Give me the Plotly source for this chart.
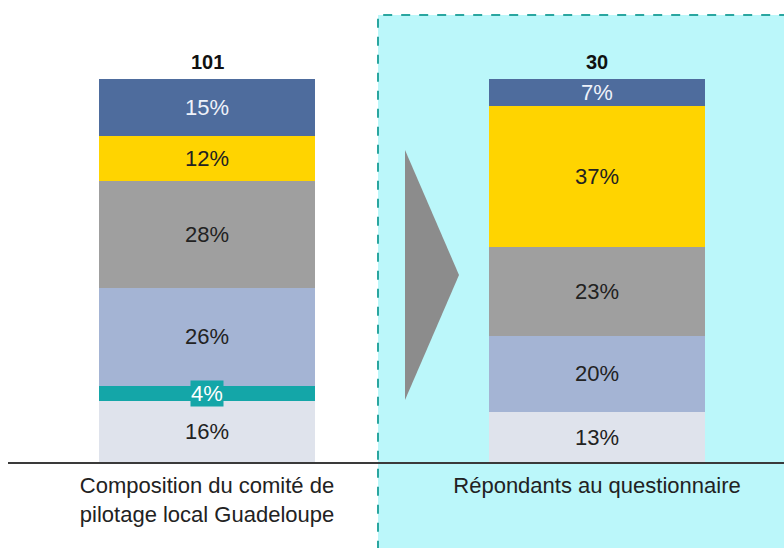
import plotly.graph_objects as go
import numpy as np

categories = ["Composition du comité de<br>pilotage local Guadeloupe", "Répondants au questionnaire"]
totals = [101, 30]
series_names = ["Groupe F", "Groupe E", "Groupe D", "Groupe C", "Groupe B", "Groupe A"]  # bottom -> top
series_values = [
    [16, 13],
    [4, 0],
    [26, 20],
    [28, 23],
    [12, 37],
    [15, 7],
]
series_colors = ["#DFE3EC", "#14A6A8", "#A4B4D4", "#9F9F9F", "#FFD400", "#4E6C9D"]
label_colors = ["#222222", "#FFFFFF", "#222222", "#222222", "#222222", "#EEF2FA"]

FONT = "Liberation Sans, Arial, sans-serif"
xpos = [0, 1]

fig = go.Figure()
for name, vals, col in zip(series_names, series_values, series_colors):
    fig.add_trace(go.Bar(x=xpos, y=vals, name=name, marker=dict(color=col, line=dict(width=0)),
                         width=0.556, hoverinfo="skip"))

# segment labels at normalized centers
vals_arr = np.array(series_values, dtype=float)
norm = vals_arr / vals_arr.sum(axis=0) * 100
cum = np.cumsum(norm, axis=0)
annotations = []
for i in range(len(series_names)):
    for j in range(len(xpos)):
        v = series_values[i][j]
        if v <= 0:
            continue
        center = cum[i][j] - norm[i][j] / 2
        ann = dict(x=xpos[j], y=center, xref="x", yref="y", text=f"{v}%", showarrow=False,
                   font=dict(family=FONT, size=22, color=label_colors[i]))
        if series_names[i] == "Groupe E":
            ann.update(bgcolor=series_colors[i], borderpad=0)
        annotations.append(ann)
for j, t in enumerate(totals):
    annotations.append(dict(x=xpos[j], y=100, xref="x", yref="y", text=f"<b>{t}</b>", showarrow=False,
                            yanchor="bottom", yshift=4, font=dict(family=FONT, size=20, color="#111111")))

shapes = [
    dict(type="rect", xref="paper", yref="paper", x0=0.4768, x1=1.05, y0=-0.3, y1=0.9889,
         fillcolor="#BBF7FA", line=dict(color="#2AA6A0", width=2, dash="dash"), layer="below"),
    dict(type="path", xref="paper", yref="paper",
         path="M 0.5116 0.6903 L 0.5812 0.4137 L 0.5116 0.1372 Z",
         fillcolor="#8C8C8C", line=dict(width=0), layer="below"),
]

fig.update_layout(
    width=784, height=548,
    margin=dict(l=8, r=0, t=10, b=86),
    barmode="stack", barnorm="percent",
    showlegend=False,
    paper_bgcolor="white", plot_bgcolor="rgba(0,0,0,0)",
    annotations=annotations, shapes=shapes,
    font=dict(family=FONT),
    xaxis=dict(range=[-0.5103, 1.4795], tickvals=xpos, ticktext=categories,
               showline=True, linecolor="#3A3A3A", linewidth=2, showgrid=False, zeroline=False,
               ticks="", ticklabelstandoff=3, tickfont=dict(family=FONT, size=22, color="#222222")),
    yaxis=dict(range=[0, 118.0], visible=False, showgrid=False, zeroline=False),
)

fig.write_html("out.html", config={"displayModeBar": False},
               post_script="document.body.style.margin='0';document.body.style.overflow='hidden';")
